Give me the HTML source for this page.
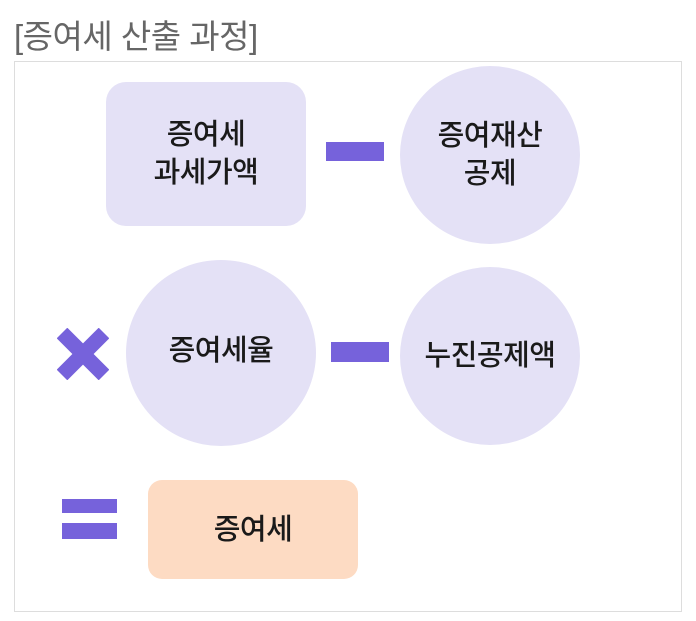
<!DOCTYPE html>
<html><head><meta charset="utf-8"><style>
body{margin:0;width:696px;height:621px;background:#fff;position:relative;overflow:hidden;font-family:"Liberation Sans","Noto Sans CJK KR",sans-serif;}
.a{position:absolute;}
.t{display:flex;align-items:center;justify-content:center;text-align:center;font-size:29px;color:#1a1a1a;line-height:38px;font-weight:500;letter-spacing:-0.5px;}
.p{background:#7662db;}
</style></head><body>
<div class="a" style="left:14px;top:10px;font-size:33px;color:#666;letter-spacing:-0.5px;">[증여세 산출 과정]</div>
<div class="a" style="left:14px;top:61px;width:666px;height:549px;border:1px solid #ddd;"></div>
<div class="a t" style="left:106px;top:82px;width:200px;height:144px;border-radius:20px;background:#e4e1f6;">증여세<br>과세가액</div>
<div class="a p" style="left:326px;top:142px;width:58px;height:19px;"></div>
<div class="a t" style="left:400px;top:66px;width:180px;height:178px;border-radius:50%;background:#e4e1f6;">증여재산<br>공제</div>
<svg class="a" style="left:57px;top:328px" width="52" height="52"><g stroke="#7662db" stroke-width="15"><line x1="5" y1="5" x2="47" y2="47"/><line x1="47" y1="5" x2="5" y2="47"/></g></svg>
<div class="a t" style="left:126px;top:260px;width:190px;height:186px;border-radius:50%;background:#e4e1f6;"><span style="margin-top:-5px">증여세율</span></div>
<div class="a p" style="left:331px;top:342px;width:58px;height:20px;"></div>
<div class="a t" style="left:400px;top:267px;width:180px;height:178px;border-radius:50%;background:#e4e1f6;">누진공제액</div>
<div class="a p" style="left:62px;top:499px;width:55px;height:14px;"></div>
<div class="a p" style="left:62px;top:523px;width:55px;height:16px;"></div>
<div class="a t" style="left:148px;top:480px;width:210px;height:99px;border-radius:14px;background:#fddbc3;">증여세</div>
</body></html>
